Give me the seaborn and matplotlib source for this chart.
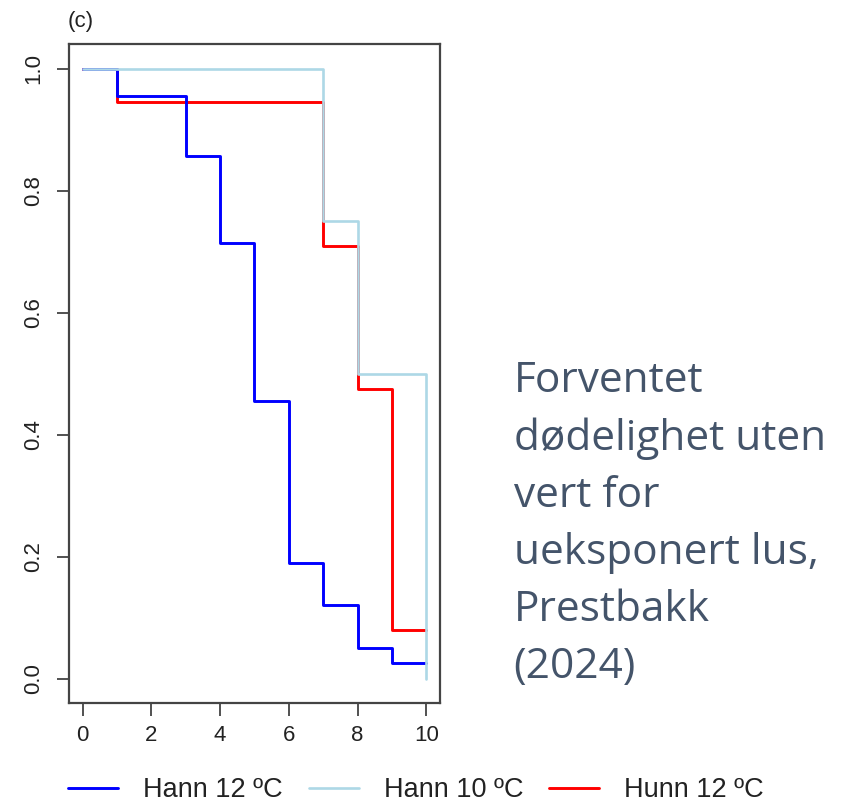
import numpy as np
import pandas as pd
import matplotlib
matplotlib.use("Agg")
import matplotlib.pyplot as plt
import seaborn as sns

# ---- data ----
series_names = ["Hann 12 ºC", "Hann 10 ºC", "Hunn 12 ºC"]
hann12_t = [0, 1, 3, 4, 5, 6, 7, 8, 9, 10]
hann12_s = [1.0, 0.955, 0.857, 0.714, 0.455, 0.19, 0.12, 0.05, 0.025, 0.025]
hann10_t = [0, 7, 8, 10]
hann10_s = [1.0, 0.75, 0.5, 0.0]
hunn12_t = [0, 1, 7, 8, 9, 10]
hunn12_s = [1.0, 0.945, 0.71, 0.475, 0.08, 0.08]
colors = {"Hann 12 ºC": "#0000FF", "Hann 10 ºC": "#ADD8E6", "Hunn 12 ºC": "#FF0000"}
x_ticks = [0, 2, 4, 6, 8, 10]
y_ticks = [0.0, 0.2, 0.4, 0.6, 0.8, 1.0]
side_text = "Forventet\ndødelighet uten\nvert for\nueksponert lus,\nPrestbakk\n(2024)"

df = pd.concat([
    pd.DataFrame({"t": hann12_t, "s": hann12_s, "g": "Hann 12 ºC"}),
    pd.DataFrame({"t": hann10_t, "s": hann10_s, "g": "Hann 10 ºC"}),
    pd.DataFrame({"t": hunn12_t, "s": hunn12_s, "g": "Hunn 12 ºC"}),
], ignore_index=True)

sns.set_style("white")
plt.rcParams["font.family"] = ["Liberation Sans", "DejaVu Sans"]

fig = plt.figure(figsize=(8.56, 8.05), dpi=100)
ax = fig.add_axes([0.0806, 0.1267, 0.4334, 0.8183])

draw_order = ["Hunn 12 ºC", "Hann 12 ºC", "Hann 10 ºC"]
for name in draw_order:
    sub = df[df.g == name]
    sns.lineplot(data=sub, x="t", y="s", color=colors[name], ax=ax,
                 drawstyle="steps-post", estimator=None, sort=False,
                 linewidth=2.1 if name != "Hann 10 ºC" else 1.9, label=name)

ax.set_xlim(-0.4, 10.4)
ax.set_ylim(-0.04, 1.04)
ax.set_xticks(x_ticks)
ax.set_yticks(y_ticks)
ax.set_xticklabels([str(v) for v in x_ticks])
ax.set_yticklabels([f"{v:.1f}" for v in y_ticks], rotation=90, va="center")
ax.set_xlabel("")
ax.set_ylabel("")
ax.tick_params(axis="both", which="both", direction="out", length=9, width=1.2,
               colors="#333333", labelsize=16, labelcolor="#222222", pad=7,
               bottom=True, left=True)
ax.tick_params(axis="y", pad=9)
for sp in ax.spines.values():
    sp.set_visible(True)
    sp.set_color("#444444")
    sp.set_linewidth(1.6)

handles, labels = ax.get_legend_handles_labels()
ax.get_legend().remove()
hmap = dict(zip(labels, handles))
fig.legend([hmap[n] for n in series_names], series_names, loc="center left",
           bbox_to_anchor=(0.0794, 0.0186), ncol=3, frameon=False, fontsize=19.5,
           handlelength=1.85, columnspacing=0.95, handletextpad=0.93,
           borderpad=0, borderaxespad=0, labelcolor="#222222")

fig.text(0.079, 0.973, "(c)", fontsize=16, color="#222222", ha="left", va="center")

fig.text(0.600, 0.553, side_text, fontsize=30.5, color="#44546A", ha="left", va="top",
         family=["Open Sans", "DejaVu Sans"], linespacing=1.47)

fig.savefig("out.png", dpi=100)
